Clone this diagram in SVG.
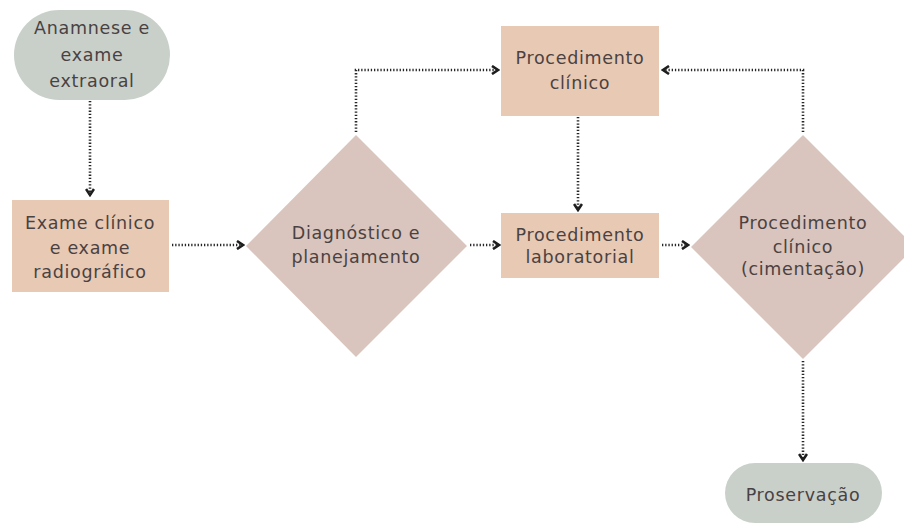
<svg xmlns="http://www.w3.org/2000/svg" width="904" height="525" viewBox="0 0 904 525">
<defs>
<marker id="arr" viewBox="0 0 10 10" refX="8" refY="5" markerWidth="10" markerHeight="10" markerUnits="userSpaceOnUse" orient="auto">
<path d="M2,1 L8,5 L2,9" fill="none" stroke="#1e1e1e" stroke-width="2.6" stroke-linejoin="miter"/>
</marker>
<style>
.pill{fill:#c9d0ca}
.box{fill:#e8c9b4}
.dia{fill:#d9c5bd}
.t{font-family:"DejaVu Sans","Open Sans",sans-serif;font-size:17.5px;letter-spacing:0.7px;fill:#4a4242;text-anchor:middle}
.c{fill:none;stroke:#262626;stroke-width:2.6;stroke-dasharray:1.3 1.9}
</style>
</defs>
<rect width="904" height="525" fill="#ffffff"/>
<g id="connectors">
<path class="c" d="M90,101 V195" marker-end="url(#arr)"/>
<path class="c" d="M172,245 H243" marker-end="url(#arr)"/>
<path class="c" d="M356,132 V70 H498" marker-end="url(#arr)"/>
<path class="c" d="M578,117 V210" marker-end="url(#arr)"/>
<path class="c" d="M470,245 H499" marker-end="url(#arr)"/>
<path class="c" d="M662,245 H688" marker-end="url(#arr)"/>
<path class="c" d="M803,132 V70 H663" marker-end="url(#arr)"/>
<path class="c" d="M803,361 V460" marker-end="url(#arr)"/>
</g>
<g id="n1">
<rect class="pill" x="14" y="10" width="156" height="90" rx="45"/>
<text class="t" x="92" y="34">Anamnese e</text>
<text class="t" x="92" y="61">exame</text>
<text class="t" x="92" y="87">extraoral</text>
</g>
<g id="n2">
<rect class="box" x="12" y="200" width="157" height="92"/>
<text class="t" x="90" y="229">Exame clínico</text>
<text class="t" x="90" y="254">e exame</text>
<text class="t" x="90" y="278">radiográfico</text>
</g>
<g id="n3">
<polygon class="dia" points="356,135 467,246 356,357 246,246"/>
<text class="t" x="356" y="239">Diagnóstico e</text>
<text class="t" x="356" y="263">planejamento</text>
</g>
<g id="n4">
<rect class="box" x="501" y="26" width="158" height="90"/>
<text class="t" x="580" y="64">Procedimento</text>
<text class="t" x="580" y="89">clínico</text>
</g>
<g id="n5">
<rect class="box" x="501" y="213" width="158" height="65"/>
<text class="t" x="580" y="241">Procedimento</text>
<text class="t" x="580" y="263">laboratorial</text>
</g>
<g id="n6">
<polygon class="dia" points="803,135 915,247 803,359 691,247"/>
<text class="t" x="803" y="229">Procedimento</text>
<text class="t" x="803" y="253">clínico</text>
<text class="t" x="803" y="275">(cimentação)</text>
</g>
<g id="n7">
<rect class="pill" x="725" y="463" width="157" height="60" rx="30"/>
<text class="t" x="803" y="501">Proservação</text>
</g>
</svg>
